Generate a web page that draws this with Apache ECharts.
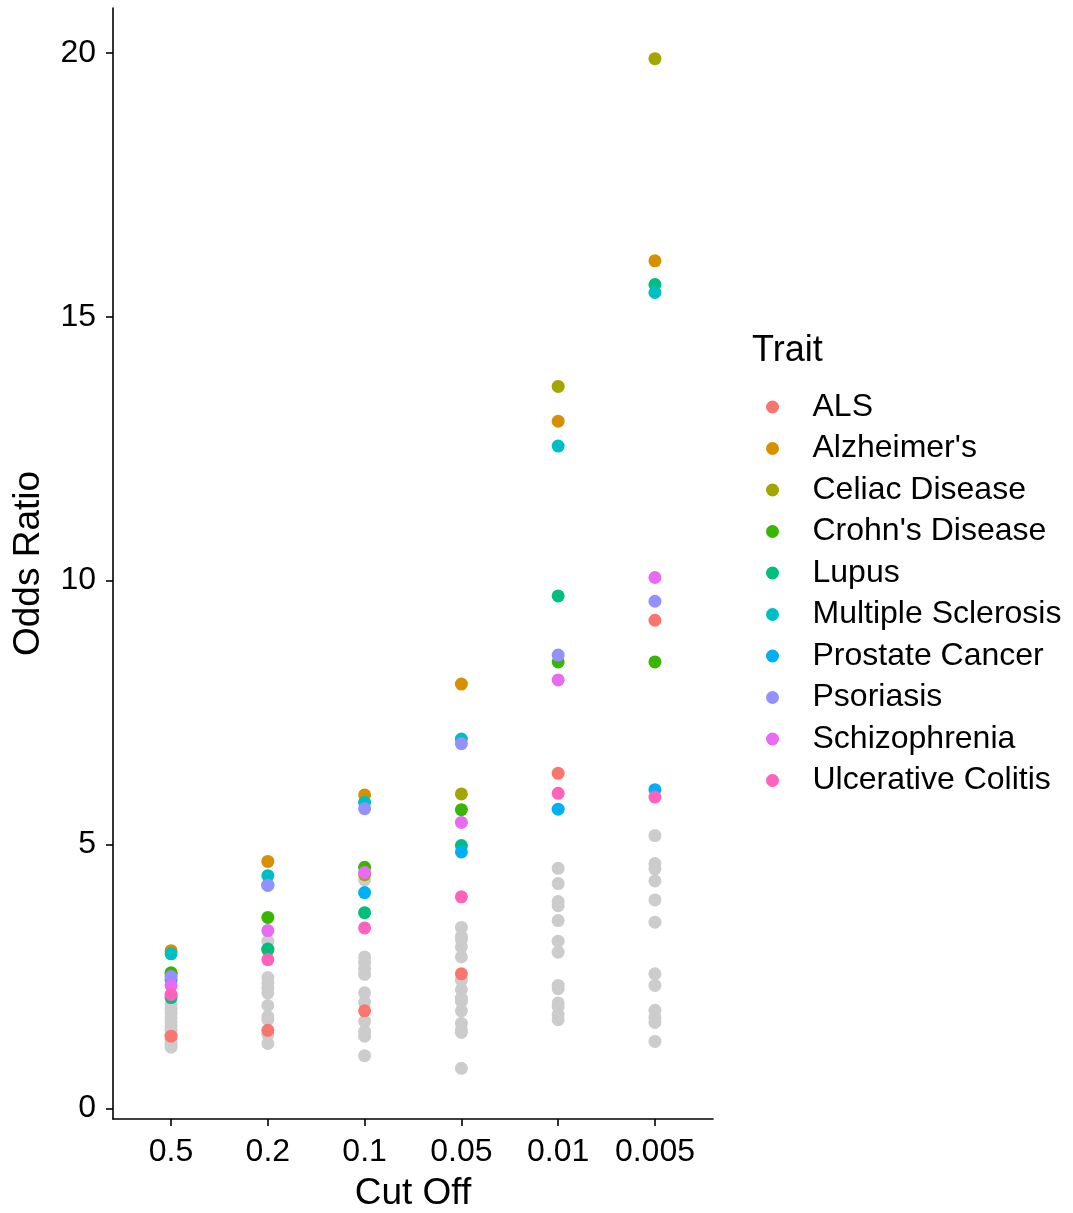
<!DOCTYPE html>
<html>
<head>
<meta charset="utf-8">
<script src="https://cdn.jsdelivr.net/npm/echarts@6/dist/echarts.min.js"></script>
<style>html,body{margin:0;padding:0;background:#fff}#c{width:1073px;height:1213px}</style>
</head>
<body>
<div id="c"></div>
<script>
const cutoffs = ["0.5", "0.2", "0.1", "0.05", "0.01", "0.005"];
const traits = ["ALS", "Alzheimer's", "Celiac Disease", "Crohn's Disease", "Lupus",
  "Multiple Sclerosis", "Prostate Cancer", "Psoriasis", "Schizophrenia", "Ulcerative Colitis"];
const traitColors = ["#F8766D", "#D89000", "#A3A500", "#39B600", "#00BF7D",
  "#00BFC4", "#00B0F6", "#9590FF", "#E76BF3", "#FF62BC"];

const ALS           = [1.37, 1.48, 1.85, 2.55, 6.35, 9.25];
const Alzheimers    = [2.99, 4.68, 5.94, 8.04, 13.02, 16.06];
const Celiac        = [2.55, 3.00, 4.43, 5.96, 13.68, 19.89];
const Crohns        = [2.57, 3.62, 4.57, 5.66, 8.46, 8.46];
const Lupus         = [2.10, 3.02, 3.71, 4.98, 9.71, 15.61];
const MS            = [2.93, 4.41, 5.80, 7.00, 12.55, 15.46];
const Prostate      = [2.44, 4.23, 4.09, 4.86, 5.67, 6.04];
const Psoriasis     = [2.50, 4.23, 5.68, 6.91, 8.59, 9.61];
const Schizophrenia = [2.33, 3.37, 4.47, 5.42, 8.12, 10.06];
const UC            = [2.16, 2.82, 3.42, 4.01, 5.97, 5.90];
const traitValues = [ALS, Alzheimers, Celiac, Crohns, Lupus, MS, Prostate, Psoriasis, Schizophrenia, UC];

// other (grey, not in legend) traits per cut off
const other_05  = [1.97, 1.88, 1.80, 1.72, 1.64, 1.56, 1.48, 1.40, 1.30, 1.22, 1.16];
const other_02  = [3.17, 2.48, 2.38, 2.28, 2.19, 1.95, 1.74, 1.68, 1.40, 1.23];
const other_01  = [4.33, 2.87, 2.77, 2.65, 2.54, 2.19, 2.01, 1.65, 1.46, 1.37, 1.00];
const other_005 = [3.43, 3.26, 3.20, 3.06, 2.87, 2.43, 2.25, 2.09, 2.03, 1.85, 1.61, 1.49, 1.44, 0.76];
const other_001 = [4.55, 4.26, 3.92, 3.84, 3.56, 3.17, 2.96, 2.33, 2.27, 2.00, 1.93, 1.78, 1.68];
const other_0005= [5.17, 4.64, 4.54, 4.31, 3.95, 3.53, 2.55, 2.33, 1.86, 1.72, 1.63, 1.27];
const otherValues = [other_05, other_02, other_01, other_005, other_001, other_0005];

const yTicks = [0, 5, 10, 15, 20];

const FONT = "Liberation Sans";
const chart = echarts.init(document.getElementById('c'), null, {renderer: 'canvas'});

const greyData = [];
otherValues.forEach((arr, i) => arr.forEach(v => greyData.push([i + 1, v])));

const series = [{
  name: 'Other', type: 'scatter', symbolSize: 13, data: greyData,
  itemStyle: {color: '#CCCCCC', opacity: 1}, z: 1, silent: true
}];
traits.forEach((t, k) => {
  series.push({
    name: t, type: 'scatter', symbolSize: 13,
    data: traitValues[k].map((v, i) => [i + 1, v]),
    itemStyle: {color: traitColors[k], opacity: 1}, z: 2 + k
  });
});

chart.setOption({
  animation: false,
  backgroundColor: '#fff',
  textStyle: {fontFamily: FONT},
  grid: {left: 113, right: 360, top: 8, bottom: 94, containLabel: false, outerBoundsMode: 'none'},
  xAxis: {
    type: 'value', min: 0.4, max: 6.6,
    name: 'Cut Off', nameLocation: 'middle', nameGap: 56,
    nameTextStyle: {fontFamily: FONT, fontSize: 37, color: '#000'},
    axisLine: {show: true, onZero: false, lineStyle: {color: '#000', width: 1.6}},
    axisTick: {show: true, length: 7, lineStyle: {color: '#000', width: 1.6}, customValues: [1,2,3,4,5,6]},
    axisLabel: {fontFamily: FONT, fontSize: 32, color: '#000', margin: 17,
      customValues: [1,2,3,4,5,6], formatter: v => cutoffs[Math.round(v) - 1]},
    splitLine: {show: false}
  },
  yAxis: {
    type: 'value', min: -0.2, max: 20.85,
    name: 'Odds Ratio', nameLocation: 'middle', nameGap: 66, nameRotate: 90,
    nameTextStyle: {fontFamily: FONT, fontSize: 37, color: '#000'},
    axisLine: {show: true, onZero: false, lineStyle: {color: '#000', width: 1.6}},
    axisTick: {show: true, length: 7, lineStyle: {color: '#000', width: 1.6}, customValues: yTicks},
    axisLabel: {fontFamily: FONT, fontSize: 32, color: '#000', margin: 17, customValues: yTicks},
    splitLine: {show: false}
  },
  legend: {
    data: traits, orient: 'vertical', left: 761, top: 386,
    icon: 'circle', itemWidth: 70, itemHeight: 13, itemGap: 9.5,
    textStyle: {fontFamily: FONT, fontSize: 32, color: '#000', lineHeight: 32},
    selectedMode: false
  },
  graphic: [{
    type: 'text', left: 752, top: 333,
    style: {text: 'Trait', fontFamily: FONT, fontSize: 36, fill: '#000'}
  }],
  series: series
});
</script>
</body>
</html>
